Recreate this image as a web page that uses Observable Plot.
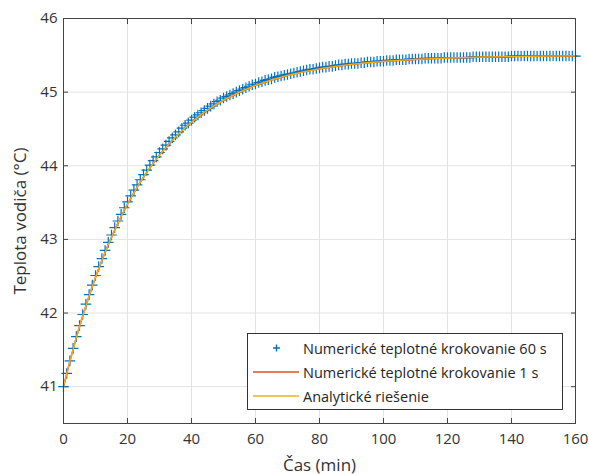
<!DOCTYPE html>
<html>
<head>
<meta charset="utf-8">
<script src="https://cdn.jsdelivr.net/npm/d3@7"></script>
<script src="https://cdn.jsdelivr.net/npm/@observablehq/plot@0.6"></script>
<style>
  html, body { margin: 0; padding: 0; background: #fff; }
  #wrap { position: relative; width: 589px; height: 474px; font-family: "Open Sans", sans-serif; }
  #legend { position: absolute; left: 247px; top: 333px; width: 316px; height: 77px; border: 1px solid #333; background: #fff; box-sizing: border-box; }
  .row { position: absolute; left: 0; height: 20px; display: flex; align-items: center; font-size: 14.5px; color: #262626; white-space: nowrap; }
  .row svg { width: 54px; height: 20px; margin-right: 1px; }
</style>
</head>
<body>
<div id="wrap"></div>
<script>
// Series: "Numerické teplotné krokovanie 60 s" — one value per minute, 0..160 min
const temp60 = [
  41.00, 41.18, 41.35, 41.52, 41.68, 41.83, 41.98, 42.12, 42.25, 42.38,
  42.51, 42.63, 42.74, 42.85, 42.96, 43.06, 43.16, 43.25, 43.34, 43.43,
  43.51, 43.59, 43.67, 43.74, 43.81, 43.88, 43.94, 44.01, 44.07, 44.12,
  44.18, 44.23, 44.28, 44.33, 44.38, 44.42, 44.46, 44.51, 44.55, 44.58,
  44.62, 44.66, 44.69, 44.72, 44.75, 44.78, 44.81, 44.84, 44.87, 44.89,
  44.92, 44.94, 44.96, 44.98, 45.00, 45.02, 45.04, 45.06, 45.08, 45.10,
  45.11, 45.13, 45.14, 45.16, 45.17, 45.18, 45.20, 45.21, 45.22, 45.23,
  45.24, 45.25, 45.26, 45.27, 45.28, 45.29, 45.30, 45.31, 45.31, 45.32,
  45.33, 45.34, 45.34, 45.35, 45.35, 45.36, 45.37, 45.37, 45.38, 45.38,
  45.39, 45.39, 45.39, 45.40, 45.40, 45.41, 45.41, 45.41, 45.42, 45.42,
  45.42, 45.43, 45.43, 45.43, 45.44, 45.44, 45.44, 45.44, 45.45, 45.45,
  45.45, 45.45, 45.45, 45.46, 45.46, 45.46, 45.46, 45.46, 45.46, 45.47,
  45.47, 45.47, 45.47, 45.47, 45.47, 45.47, 45.47, 45.47, 45.48, 45.48,
  45.48, 45.48, 45.48, 45.48, 45.48, 45.48, 45.48, 45.48, 45.48, 45.48,
  45.49, 45.49, 45.49, 45.49, 45.49, 45.49, 45.49, 45.49, 45.49, 45.49,
  45.49, 45.49, 45.49, 45.49, 45.49, 45.49, 45.49, 45.49, 45.49, 45.49,
  45.49
];
const step60Minutes = 1;

// Sample times for the two continuous curves (min)
const lineTime = [0, 2, 4, 6, 8, 10, 12, 14, 16, 18, 20, 22, 24, 26, 28, 30, 32, 34, 36, 38, 40,
  42, 44, 46, 48, 50, 55, 60, 65, 70, 75, 80, 85, 90, 95, 100, 110, 120, 130, 140, 150, 160];
// "Numerické teplotné krokovanie 1 s"
const temp1 = [41.000, 41.346, 41.666, 41.961, 42.233, 42.484, 42.716, 42.930, 43.128, 43.310, 43.478,
  43.634, 43.777, 43.910, 44.032, 44.145, 44.249, 44.345, 44.434, 44.516, 44.592,
  44.661, 44.726, 44.785, 44.840, 44.891, 45.002, 45.092, 45.166, 45.227, 45.276,
  45.317, 45.350, 45.377, 45.399, 45.418, 45.445, 45.463, 45.475, 45.483, 45.489, 45.493];
// "Analytické riešenie"
const tempAnalytic = [41.000, 41.346, 41.665, 41.960, 42.232, 42.484, 42.716, 42.930, 43.127, 43.310, 43.478,
  43.633, 43.777, 43.909, 44.032, 44.145, 44.249, 44.345, 44.434, 44.516, 44.591,
  44.661, 44.726, 44.785, 44.840, 44.891, 45.001, 45.092, 45.166, 45.226, 45.276,
  45.317, 45.350, 45.377, 45.399, 45.418, 45.445, 45.463, 45.475, 45.483, 45.489, 45.493];

const xTicks = [0, 20, 40, 60, 80, 100, 120, 140, 160];
const yTicks = [41, 42, 43, 44, 45, 46];
const seriesNames = ["Numerické teplotné krokovanie 60 s", "Numerické teplotné krokovanie 1 s", "Analytické riešenie"];
const colors = ["#0072BD", "#D95319", "#EDB120"];

const pts60 = temp60.map((v, i) => ({t: i * step60Minutes, v}));
const pts1 = lineTime.map((t, i) => ({t, v: temp1[i]}));
const ptsA = lineTime.map((t, i) => ({t, v: tempAnalytic[i]}));

const axisColor = "#444";
const chart = Plot.plot({
  width: 589,
  height: 474,
  marginLeft: 63,
  marginRight: 14,
  marginTop: 18,
  marginBottom: 51,
  style: {fontFamily: "'Open Sans', sans-serif", fontSize: "15px", color: "#333", background: "#fff"},
  x: {domain: [0, 160]},
  y: {domain: [40.5, 46]},
  marks: [
    Plot.gridX(xTicks, {stroke: "#e3e3e3", strokeOpacity: 1}),
    Plot.gridY(yTicks, {stroke: "#e3e3e3", strokeOpacity: 1}),
    Plot.axisX(xTicks, {anchor: "bottom", tickSize: -5, tickPadding: 15, stroke: axisColor, fill: "#333",
      tickFormat: d => String(d), label: null}),
    Plot.axisX({anchor: "bottom", ticks: [], label: "Čas (min)", labelAnchor: "center", labelArrow: "none",
      labelOffset: 47, fill: "#333", fontSize: 17}),
    Plot.axisX(xTicks, {anchor: "top", tickSize: -5, text: null, label: null, stroke: axisColor}),
    Plot.axisY(yTicks, {anchor: "left", tickSize: -5, tickPadding: 11, stroke: axisColor, fill: "#333",
      tickFormat: d => String(d), label: null}),
    Plot.axisY({anchor: "left", ticks: [], label: "Teplota vodiča (°C)", labelAnchor: "center", labelArrow: "none",
      labelOffset: 50, fill: "#333", fontSize: 17}),
    Plot.axisY(yTicks, {anchor: "right", tickSize: -5, text: null, label: null, stroke: axisColor}),
    Plot.dot(pts60, {x: "t", y: "v", symbol: "plus", r: 3.5, stroke: colors[0], strokeWidth: 1.2}),
    Plot.line(pts1, {x: "t", y: "v", stroke: colors[1], strokeWidth: 1.6}),
    Plot.line(ptsA, {x: "t", y: "v", stroke: colors[2], strokeWidth: 1.3}),
    Plot.frame({stroke: axisColor, strokeWidth: 1})
  ]
});

const wrap = document.getElementById("wrap");
wrap.appendChild(chart);

const legend = document.createElement("div");
legend.id = "legend";
seriesNames.forEach((name, i) => {
  const row = document.createElement("div");
  row.className = "row";
  row.style.top = (4 + i * 24) + "px";
  const sym = i === 0
    ? `<svg viewBox="0 0 54 20"><path d="M25,10h7M28.5,6.5v7" stroke="${colors[0]}" stroke-width="1.4"/></svg>`
    : `<svg viewBox="0 0 54 20"><path d="M5,10H51" stroke="${colors[i]}" stroke-width="1.6"/></svg>`;
  row.innerHTML = sym + `<span>${name}</span>`;
  legend.appendChild(row);
});
wrap.appendChild(legend);
</script>
</body>
</html>
